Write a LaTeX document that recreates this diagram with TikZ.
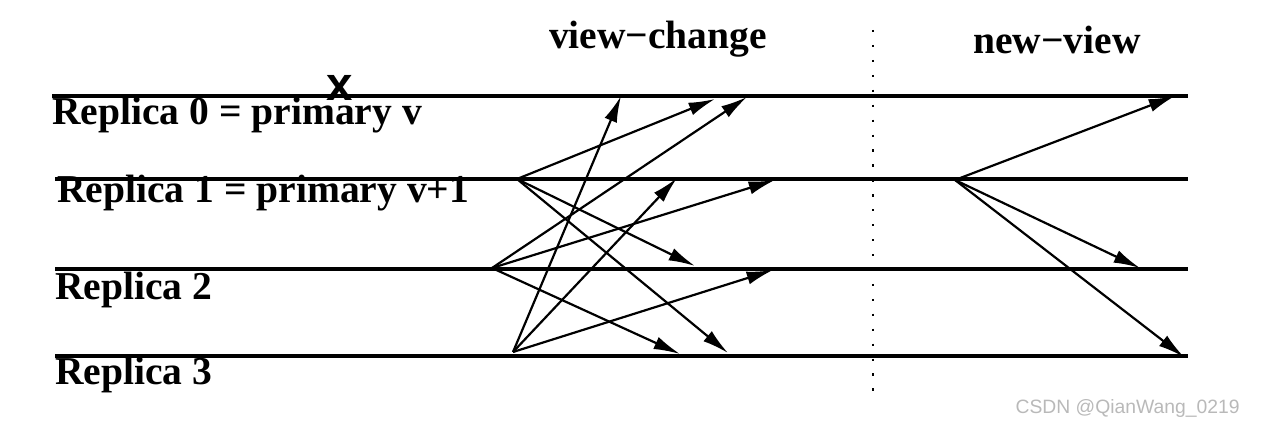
\documentclass[tikz,border=0pt]{standalone}
\usepackage{fontspec}
\setmainfont{Liberation Serif}
\newfontfamily\marksans{Liberation Sans}
\usetikzlibrary{arrows.meta}

\begin{document}
\begin{tikzpicture}[x=0.02cm, y=-0.02cm, >={Latex[length=15pt,width=7.5pt]},
    msg/.style={->, line width=1.25pt},
    replica/.style={line width=2.8pt},
    lbl/.style={anchor=base west, inner sep=0pt, font=\fontsize{22.5}{27}\selectfont\bfseries}]
  \useasboundingbox (0,0) rectangle (1280,428);

  % replica time lines
  \coordinate (l0w) at (52,96);  \coordinate (l0e) at (1188,96);
  \coordinate (l1w) at (55,179); \coordinate (l1e) at (1188,179);
  \coordinate (l2w) at (55,269); \coordinate (l2e) at (1188,269);
  \coordinate (l3w) at (55,356); \coordinate (l3e) at (1188,356);
  \draw[replica] (l0w) -- (l0e);
  \draw[replica] (l1w) -- (l1e);
  \draw[replica] (l2w) -- (l2e);
  \draw[replica] (l3w) -- (l3e);

  \node[lbl] (r0) at (52,125) {Replica 0 = primary v};
  \node[lbl] (r1) at (57,203) {Replica 1 = primary v+1};
  \node[lbl] (r2) at (55,300) {Replica 2};
  \node[lbl] (r3) at (55,385) {Replica 3};
  \node[anchor=base, inner sep=0pt, font=\marksans\fontsize{27}{27}\selectfont\bfseries] (fail) at (340,101) {x};

  % phase titles and separator
  \node[lbl, anchor=base] (vc) at (658,49) {view−change};
  \node[lbl, anchor=base] (nv) at (1057,54) {new−view};
  \coordinate (septop) at (873,30);
  \coordinate (sepbot) at (873,392);
  \draw[line width=1.3pt, dash pattern=on 1.3pt off 7.2pt] (septop) -- (sepbot);

  % view-change messages
  \coordinate (vc1) at (517,179);
  \coordinate (vc2) at (492,268);
  \coordinate (vc3) at (513,352);
  \coordinate (a10) at (715,99);  \coordinate (a12) at (695,266); \coordinate (a13) at (728,353);
  \coordinate (a20) at (747,97);  \coordinate (a21) at (775,180); \coordinate (a23) at (680,354);
  \coordinate (a30) at (621,96);  \coordinate (a31) at (677,178); \coordinate (a32) at (773,270);
  \path (vc1) edge[msg] (a10)
        (vc1) edge[msg] (a12)
        (vc1) edge[msg] (a13)
        (vc2) edge[msg] (a20)
        (vc2) edge[msg] (a21)
        (vc2) edge[msg] (a23)
        (vc3) edge[msg] (a30)
        (vc3) edge[msg] (a31)
        (vc3) edge[msg] (a32);

  % new-view messages
  \coordinate (nv1) at (955,180);
  \coordinate (b0) at (1175,96); \coordinate (b2) at (1140,268); \coordinate (b3) at (1184,357);
  \path (nv1) edge[msg] (b0)
        (nv1) edge[msg] (b2)
        (nv1) edge[msg] (b3);

  \node[anchor=base east, inner sep=0pt, text=gray!55, font=\marksans\fontsize{11}{11}\selectfont] (wm) at (1240,414) {CSDN @QianWang\_0219};
\end{tikzpicture}
\end{document}
